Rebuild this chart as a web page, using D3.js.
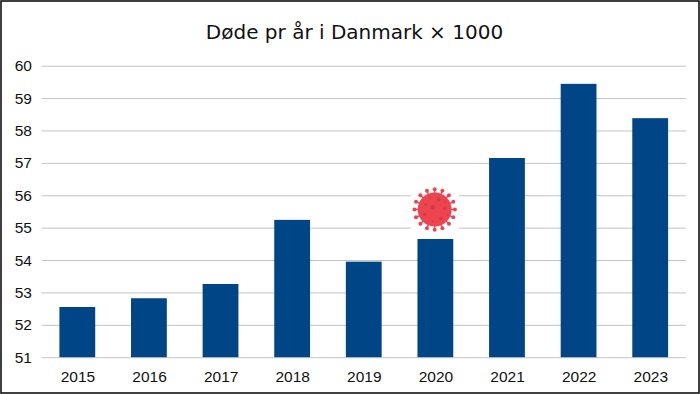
<!DOCTYPE html>
<html><head><meta charset="utf-8">
<script src="https://cdn.jsdelivr.net/npm/d3@7"></script>
<style>html,body{margin:0;padding:0;background:#fff}svg{display:block}text{font-family:"Liberation Sans",sans-serif;fill:#111}</style>
</head><body><svg id="c" width="700" height="394"></svg>
<script>
const years = ["2015","2016","2017","2018","2019","2020","2021","2022","2023"];
const deaths = [52.55,52.82,53.26,55.24,53.95,54.65,57.15,59.44,58.38];
const yTicks = [51,52,53,54,55,56,57,58,59,60];
const titleText = "Døde pr år i Danmark × 1000";
const markedYear = "2020";
const virusSpikes = [0,22.5,45,67.5,90,112.5,135,157.5,180,202.5,225,247.5,270,292.5,315,337.5];
const virusSpots = [[-2,-2,2.2],[4,-10,1.9],[-9,-5,1.3],[-5,-12,1],[10,-1,1.6],[-10,5,1.6],[6,9,1.7],[-2,12,1.1],[13,5,1],[10,-8,1]];

const svg = d3.select("#c");
svg.append("rect").attr("x",1).attr("y",1).attr("width",698).attr("height",392)
  .attr("fill","#fff").attr("stroke","#111").attr("stroke-width",1.6);
const x = d3.scaleBand().domain(years).range([41.5,686]).paddingInner(.5).paddingOuter(.25);
const y = d3.scaleLinear().domain([51,60]).range([357.2,65.7]);

const gy = svg.append("g").attr("transform","translate(41.5,0)")
  .call(d3.axisLeft(y).tickValues(yTicks).tickSize(-644.5).tickPadding(9.5).tickFormat(d3.format("d")));
gy.select(".domain").remove();
gy.selectAll("line").attr("stroke","#c3c3c3").attr("stroke-width",1);
gy.selectAll("text").attr("font-size",15.5).attr("text-anchor","end").attr("dy","0.33em");

svg.append("g").selectAll("rect").data(years).join("rect")
  .attr("x",d=>x(d)).attr("width",x.bandwidth())
  .attr("y",(d,i)=>y(deaths[i])).attr("height",(d,i)=>y(51)-y(deaths[i]))
  .attr("fill","#004586");

const gx = svg.append("g").attr("transform","translate(0.6,357.2)")
  .call(d3.axisBottom(x).tickSize(0).tickPadding(14));
gx.select(".domain").remove();
gx.selectAll("text").attr("font-size",15.5);

svg.append("text").attr("x",354.5).attr("y",39).attr("text-anchor","middle")
  .attr("font-size",20).style("font-family","'DejaVu Sans',sans-serif").text(titleText);

const cx = x(markedYear)+x.bandwidth()/2-0.7, cy = y(55.56);
const v = svg.append("g").attr("transform",`translate(${cx},${cy})`);
v.append("rect").attr("x",-23.8).attr("y",-24).attr("width",48).attr("height",48).attr("fill","#fff");
virusSpikes.forEach(a=>{
  const r=a*Math.PI/180;
  v.append("line").attr("x1",0).attr("y1",0).attr("x2",20*Math.cos(r)).attr("y2",20*Math.sin(r))
    .attr("stroke","#ee4450").attr("stroke-width",1.4);
  v.append("circle").attr("cx",20.2*Math.cos(r)).attr("cy",20.2*Math.sin(r)).attr("r",2).attr("fill","#ee4450");
});
v.append("circle").attr("r",17).attr("fill","#ee4450");
v.selectAll(".s").data(virusSpots).join("circle").attr("class","s")
  .attr("cx",d=>d[0]).attr("cy",d=>d[1]).attr("r",d=>d[2]).attr("fill","#cc3b49");
</script></body></html>
